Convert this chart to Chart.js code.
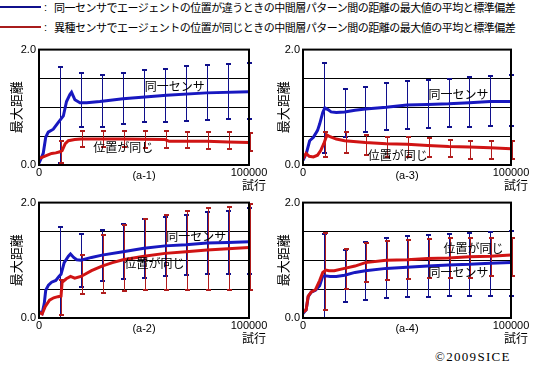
<!DOCTYPE html>
<html>
<head>
<meta charset="utf-8">
<script src="https://cdn.jsdelivr.net/npm/chart.js@4.4.1/dist/chart.umd.min.js"></script>
<style>
  body { margin: 0; width: 540px; height: 369px; position: relative; background: #fff; overflow: hidden; font-family: 'Noto Sans CJK JP', sans-serif; }
  .panel { position: absolute; width: 270px; height: 152px; }
  .key { position: absolute; left: 0; width: 41px; height: 2px; }
  .colon { position: absolute; left: 44px; font: 11px 'Liberation Sans', sans-serif; line-height: 14px; }
  .keytext { position: absolute; left: 54px; font-size: 11px; letter-spacing: -0.5px; white-space: nowrap; line-height: 14px; }
  #copy { position: absolute; left: 435px; top: 349px; font: 13px 'Liberation Serif', serif; letter-spacing: 1.3px; }
</style>
</head>
<body>
<div class="key" style="top:6px;background:#10108c"></div>
<div class="colon" style="top:0">:</div>
<div class="keytext" style="top:0">同一センサでエージェントの位置が違うときの中間層パターン間の距離の最大値の平均と標準偏差</div>
<div class="key" style="top:26px;background:#a81c1c"></div>
<div class="colon" style="top:20px">:</div>
<div class="keytext" style="top:20px">異種センサでエージェントの位置が同じときの中間層パターン間の距離の最大値の平均と標準偏差</div>

<div class="panel" style="left:0;top:40px"><canvas id="a1" width="270" height="152"></canvas></div>
<div class="panel" style="left:270px;top:40px"><canvas id="a3" width="270" height="152"></canvas></div>
<div class="panel" style="left:0;top:193px"><canvas id="a2" width="270" height="152"></canvas></div>
<div class="panel" style="left:270px;top:193px"><canvas id="a4" width="270" height="152"></canvas></div>
<div id="copy">©2009SICE</div>

<script>
// trials where the error bars sit
const barTrials = [10000, 20000, 30000, 40000, 50000, 60000, 70000, 80000, 90000, 100000]

// (a-1)
const a1BlueX = [0, 2000, 3200, 4400, 6800, 9200, 11600, 13100, 14700, 15500, 17100, 19500, 22700, 29000, 40000, 50400, 60700, 79700, 100000]
const a1BlueY = [0.03, 0.2, 0.48, 0.57, 0.62, 0.74, 0.85, 1.1, 1.22, 1.26, 1.13, 1.08, 1.08, 1.1, 1.15, 1.18, 1.21, 1.25, 1.27]
const a1RedX = [0, 2000, 4000, 6000, 8000, 10000, 11000, 12500, 14000, 17000, 20000, 30000, 40000, 60000, 62000, 80000, 90000, 100000]
const a1RedY = [0.11, 0.14, 0.17, 0.2, 0.21, 0.23, 0.25, 0.37, 0.42, 0.44, 0.45, 0.45, 0.45, 0.44, 0.41, 0.41, 0.4, 0.39]
const a1BlueHi = [1.70, 1.60, 1.56, 1.60, 1.65, 1.67, 1.71, 1.74, 1.75, 1.77]
const a1BlueLo = [0.04, 0.66, 0.66, 0.71, 0.74, 0.75, 0.76, 0.78, 0.79, 0.79]
const a1RedHi = [0.42, 0.59, 0.59, 0.59, 0.59, 0.59, 0.58, 0.58, 0.57, 0.55]
const a1RedLo = [0.03, 0.32, 0.32, 0.31, 0.30, 0.30, 0.30, 0.28, 0.28, 0.25]

// (a-3)
const a3BlueX = [0, 1600, 3200, 5000, 7000, 8000, 9500, 10500, 12000, 13500, 16000, 20000, 25000, 30000, 40000, 50000, 60000, 70000, 80000, 90000, 100000]
const a3BlueY = [0.08, 0.2, 0.42, 0.48, 0.6, 0.71, 0.91, 0.99, 0.96, 0.92, 0.91, 0.92, 0.95, 0.97, 1.0, 1.04, 1.05, 1.06, 1.08, 1.1, 1.1]
const a3RedX = [0, 1500, 3000, 5000, 7000, 8500, 10000, 11500, 13000, 16000, 20000, 30000, 40000, 50000, 60000, 70000, 80000, 90000, 100000]
const a3RedY = [0.11, 0.2, 0.15, 0.14, 0.17, 0.25, 0.37, 0.52, 0.49, 0.45, 0.42, 0.39, 0.37, 0.36, 0.34, 0.32, 0.31, 0.3, 0.28]
const a3BlueHi = [1.76, 1.31, 1.35, 1.42, 1.46, 1.47, 1.49, 1.52, 1.54, 1.56]
const a3BlueLo = [0.21, 0.48, 0.58, 0.61, 0.62, 0.64, 0.65, 0.66, 0.67, 0.67]
const a3RedHi = [0.58, 0.58, 0.52, 0.48, 0.48, 0.46, 0.44, 0.42, 0.41, 0.41]
const a3RedLo = [0.14, 0.21, 0.17, 0.14, 0.14, 0.13, 0.13, 0.11, 0.11, 0.10]

// (a-2)
const a2BlueX = [0, 1500, 2500, 3200, 4500, 6000, 8000, 9500, 10500, 12000, 14000, 15000, 16500, 18000, 20000, 25000, 30000, 40000, 50000, 60000, 70000, 80000, 90000, 100000]
const a2BlueY = [0.11, 0.08, 0.25, 0.48, 0.57, 0.62, 0.65, 0.72, 0.76, 0.96, 1.07, 1.11, 1.05, 1.01, 1.0, 1.05, 1.09, 1.15, 1.21, 1.25, 1.27, 1.3, 1.31, 1.32]
const a2RedX = [0, 1500, 3000, 5000, 7000, 9000, 10500, 11000, 13000, 15000, 17000, 20000, 25000, 30000, 35000, 40000, 50000, 60000, 70000, 80000, 90000, 100000]
const a2RedY = [0.1, 0.07, 0.2, 0.31, 0.35, 0.37, 0.38, 0.62, 0.68, 0.72, 0.69, 0.72, 0.82, 0.9, 0.96, 1.01, 1.07, 1.12, 1.15, 1.18, 1.2, 1.22]
const a2BlueHi = [1.58, 1.46, 1.53, 1.63, 1.72, 1.75, 1.79, 1.83, 1.86, 1.90]
const a2BlueLo = [0.0, 0.54, 0.64, 0.68, 0.70, 0.73, 0.75, 0.76, 0.76, 0.77]
const a2RedHi = [0.65, 1.09, 1.44, 1.62, 1.71, 1.79, 1.85, 1.90, 1.93, 1.97]
const a2RedLo = [0.06, 0.41, 0.44, 0.46, 0.48, 0.48, 0.48, 0.48, 0.48, 0.49]

// (a-4)
const a4BlueX = [0, 1500, 2500, 4000, 6000, 8000, 9500, 11000, 13000, 16000, 20000, 25000, 30000, 40000, 50000, 60000, 70000, 80000, 90000, 100000]
const a4BlueY = [0.08, 0.14, 0.37, 0.45, 0.48, 0.56, 0.73, 0.73, 0.72, 0.72, 0.74, 0.79, 0.82, 0.86, 0.88, 0.9, 0.92, 0.93, 0.95, 0.96]
const a4RedX = [0, 1500, 2500, 4000, 6000, 8000, 9500, 11000, 12500, 15000, 20000, 25000, 30000, 40000, 50000, 60000, 70000, 80000, 90000, 100000]
const a4RedY = [0.1, 0.14, 0.38, 0.45, 0.49, 0.65, 0.79, 0.83, 0.82, 0.82, 0.86, 0.9, 0.96, 1.0, 1.01, 1.03, 1.04, 1.06, 1.07, 1.09]
const a4BlueHi = [1.45, 1.18, 1.31, 1.38, 1.42, 1.44, 1.46, 1.48, 1.49, 1.50]
const a4BlueLo = [0.0, 0.28, 0.32, 0.35, 0.37, 0.37, 0.38, 0.38, 0.38, 0.38]
const a4RedHi = [1.48, 1.19, 1.30, 1.34, 1.35, 1.37, 1.38, 1.38, 1.38, 1.38]
const a4RedLo = [0.13, 0.50, 0.62, 0.66, 0.68, 0.69, 0.69, 0.70, 0.72, 0.72]

const blueLine = '#1818c0'
const redLine = '#d01414'
const blueBar = '#10108c'
const redBar = '#b01c1c'

Chart.defaults.font.family = "'Liberation Sans', Arial, sans-serif"
Chart.defaults.color = '#000'

// error bars, in-plot labels, frame and the 試行 label
const panelExtras = {
  id: 'panelExtras',
  beforeDatasetsDraw(chart, args, opts) {
    const { ctx, scales: { x, y } } = chart
    ctx.save()
    for (const bar of opts.bars) {
      ctx.strokeStyle = bar.color
      barTrials.forEach((t, i) => {
        const px = Math.round(x.getPixelForValue(t)) + bar.shift
        const top = Math.round(y.getPixelForValue(bar.hi[i]))
        const bot = Math.round(y.getPixelForValue(bar.lo[i]))
        ctx.lineWidth = 1
        ctx.beginPath()
        ctx.moveTo(px + 0.5, top)
        ctx.lineTo(px + 0.5, bot)
        ctx.stroke()
        ctx.lineWidth = 2
        ctx.beginPath()
        ctx.moveTo(px - 2, top)
        ctx.lineTo(px + 3, top)
        ctx.moveTo(px - 2, bot)
        ctx.lineTo(px + 3, bot)
        ctx.stroke()
      })
    }
    ctx.restore()
  },
  afterDatasetsDraw(chart, args, opts) {
    const { ctx, chartArea: a, scales: { x, y } } = chart
    ctx.save()
    ctx.fillStyle = '#000'
    ctx.textAlign = 'center'
    ctx.textBaseline = 'middle'
    ctx.font = "12px 'Noto Sans CJK JP'"
    for (const n of opts.notes) {
      ctx.fillText(n.text, x.getPixelForValue(n.x), y.getPixelForValue(n.y))
    }
    ctx.fillText('試行', a.right + 5, a.bottom + 20)
    ctx.lineWidth = 2
    ctx.strokeStyle = '#000'
    ctx.strokeRect(a.left, a.top, a.right - a.left, a.bottom - a.top)
    ctx.restore()
  }
}

function points(xs, ys) {
  return xs.map((t, i) => ({ x: t, y: ys[i] }))
}

function makePanel(id, p) {
  new Chart(document.getElementById(id), {
    type: 'line',
    data: {
      datasets: [
        { data: points(p.redX, p.redY), borderColor: redLine, borderWidth: 3, pointRadius: 0, tension: 0 },
        { data: points(p.blueX, p.blueY), borderColor: blueLine, borderWidth: 3, pointRadius: 0, tension: 0 }
      ]
    },
    options: {
      responsive: false,
      animation: false,
      layout: { padding: { left: 0, top: 7, right: p.padRight, bottom: 9 } },
      plugins: {
        legend: { display: false },
        tooltip: { enabled: false },
        panelExtras: {
          bars: [
            { hi: p.blueHi, lo: p.blueLo, color: blueBar, shift: 0 },
            { hi: p.redHi, lo: p.redLo, color: redBar, shift: 1 }
          ],
          notes: p.notes
        }
      },
      scales: {
        x: {
          type: 'linear', min: 0, max: 100000,
          grid: { display: false, drawTicks: false },
          border: { display: false },
          ticks: { stepSize: 100000, padding: 1, maxRotation: 0, autoSkip: false, font: { size: 11 }, callback: v => String(v) },
          title: { display: true, text: p.name, font: { size: 11 }, padding: 0 },
          afterFit: s => { s.height = 18 }
        },
        y: {
          min: 0, max: 2,
          grid: { color: '#000', lineWidth: 1, drawTicks: false },
          border: { display: false },
          ticks: { stepSize: 0.5, padding: 3, font: { size: 11 }, callback: v => (v === 0 || v === 2) ? v.toFixed(1) : '' },
          title: { display: true, text: '最大距離', font: { size: 13, family: "'Noto Sans CJK JP'" }, padding: { top: p.titlePad, bottom: 0 } },
          afterFit: s => { s.width = p.axisWidth }
        }
      }
    },
    plugins: [panelExtras]
  })
}

makePanel('a1', {
  name: '(a-1)', axisWidth: 39, padRight: 21, titlePad: 8,
  blueX: a1BlueX, blueY: a1BlueY, redX: a1RedX, redY: a1RedY,
  blueHi: a1BlueHi, blueLo: a1BlueLo, redHi: a1RedHi, redLo: a1RedLo,
  notes: [{ text: '同一センサ', x: 64700, y: 1.36 }, { text: '位置が同じ', x: 40100, y: 0.30 }]
})
makePanel('a3', {
  name: '(a-3)', axisWidth: 33, padRight: 29, titlePad: 5,
  blueX: a3BlueX, blueY: a3BlueY, redX: a3RedX, redY: a3RedY,
  blueHi: a3BlueHi, blueLo: a3BlueLo, redHi: a3RedHi, redLo: a3RedLo,
  notes: [{ text: '同一センサ', x: 74800, y: 1.22 }, { text: '位置が同じ', x: 45500, y: 0.17 }]
})
makePanel('a2', {
  name: '(a-2)', axisWidth: 39, padRight: 21, titlePad: 8,
  blueX: a2BlueX, blueY: a2BlueY, redX: a2RedX, redY: a2RedY,
  blueHi: a2BlueHi, blueLo: a2BlueLo, redHi: a2RedHi, redLo: a2RedLo,
  notes: [{ text: '同一センサ', x: 74900, y: 1.41 }, { text: '位置が同じ', x: 55000, y: 0.94 }]
})
makePanel('a4', {
  name: '(a-4)', axisWidth: 33, padRight: 29, titlePad: 5,
  blueX: a4BlueX, blueY: a4BlueY, redX: a4RedX, redY: a4RedY,
  blueHi: a4BlueHi, blueLo: a4BlueLo, redHi: a4RedHi, redLo: a4RedLo,
  notes: [{ text: '位置が同じ', x: 82000, y: 1.2 }, { text: '同一センサ', x: 74800, y: 0.79 }]
})
</script>
</body>
</html>
